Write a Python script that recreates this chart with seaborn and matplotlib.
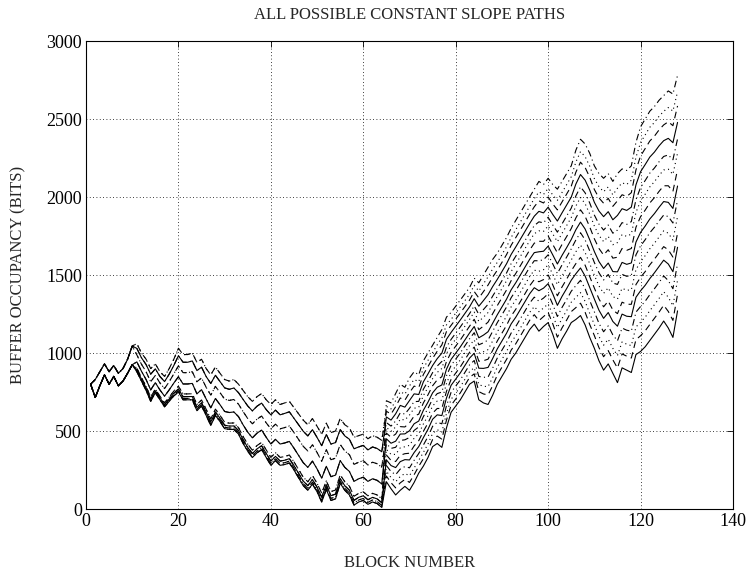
import matplotlib
matplotlib.use("Agg")
import matplotlib.pyplot as plt
import numpy as np
import pandas as pd
import seaborn as sns

# ---------------- data ----------------
blocks = list(range(1, 129))

# lowest buffer path (bits)
bottom_path = [
    800, 715, 790, 860, 800, 850, 790, 820, 870, 925,
    880, 820, 760, 690, 745, 700, 655, 690, 725, 750,
    700, 700, 700, 630, 660, 600, 535, 600, 560, 515,
    510, 510, 480, 420, 370, 330, 360, 380, 330, 280,
    310, 280, 285, 295, 250, 200, 150, 120, 160, 110,
    45, 125, 55, 65, 165, 120, 90, 25, 45, 55,
    30, 45, 35, 10,
    175, 130, 90, 120, 145, 120,
    170, 230, 275, 330, 400, 420, 395, 520, 620, 660,
    700, 750, 800, 820, 700, 680, 670, 730, 800, 850,
    900, 960, 1000, 1050, 1100, 1150, 1185, 1140, 1170, 1195,
    1120, 1030, 1090, 1140, 1195, 1215, 1240, 1180, 1100, 1030,
    950, 890, 930, 870, 810, 905, 890, 875, 990, 1010,
    1040, 1080, 1120, 1160, 1205, 1160, 1100, 1270,
]

# highest buffer path (bits)
top_path = [
    800, 830, 880, 930, 880, 920, 870, 900, 960, 1045,
    1060, 1000, 960, 900, 930, 880, 850, 900, 960, 1030,
    990, 990, 1000, 940, 960, 900, 860, 910, 870, 830,
    820, 830, 800, 760, 720, 690, 720, 740, 700, 670,
    700, 670, 680, 690, 650, 610, 570, 540, 580, 530,
    480, 550, 490, 500, 580, 540, 520, 460, 470, 480,
    450, 470, 460, 440,
    694, 680, 740, 800, 780, 840,
    880, 860, 950, 1000, 1050, 1100, 1150, 1230, 1260, 1300,
    1340, 1380, 1420, 1480, 1450, 1500, 1550, 1600, 1640, 1690,
    1740, 1800, 1850, 1900, 1950, 2000, 2050, 2100, 2080, 2120,
    2080, 2050, 2100, 2150, 2200, 2300, 2370, 2340, 2280, 2200,
    2150, 2120, 2150, 2100, 2150, 2180, 2170, 2200, 2350, 2450,
    2500, 2550, 2580, 2620, 2650, 2680, 2660, 2780,
]

# segment ends (block numbers)
segment_ends = [10, 64, 128]

# relative position of each of the 16 paths between bottom and top path, per segment
pos_seg1 = [0, 0, 0, 0, 0, 0, 0, 0, 0, 1, 1, 1, 1, 1, 1, 0]
pos_seg2 = [0, 0.03, 0.03, 0.07, 0.07, 0.13, 0.13, 0.35, 0.35,
            0.6, 0.6, 0.83, 0.83, 1.0, 1.0, 0]
pos_seg3 = [0, 0.07, 0.13, 0.2, 0.27, 0.33, 0.4, 0.47,
            0.53, 0.6, 0.67, 0.73, 0.8, 0.87, 0.93, 1.0]

# ---------------- build table ----------------
b = np.array(bottom_path, float)
t = np.array(top_path, float)
n = np.array(blocks)
rows = []
for k in range(16):
    w = np.where(n <= segment_ends[0], pos_seg1[k],
                 np.where(n <= segment_ends[1], pos_seg2[k], pos_seg3[k]))
    vals = b + w * (t - b)
    rows.append(pd.DataFrame({"block": n, "bits": vals, "path": f"p{k:02d}"}))
df = pd.concat(rows, ignore_index=True)

cycle = ["", (6, 4), (1, 3), (6, 3, 1, 3)]
dashes = {f"p{k:02d}": cycle[k % 4] for k in range(16)}

# ---------------- plot ----------------
sns.set_theme(style="white")
plt.rcParams["font.family"] = ["Liberation Serif", "DejaVu Serif"]

W, H = 748, 571
fig = plt.figure(figsize=(W / 100, H / 100), dpi=100)
left, right, top, bottom = 86, 733, 41, 509
ax = fig.add_axes([left / W, 1 - bottom / H, (right - left) / W, (bottom - top) / H])

sns.lineplot(data=df, x="block", y="bits", style="path", dashes=dashes,
             color="black", linewidth=0.8, estimator=None, sort=False,
             legend=False, ax=ax)

ax.set_xlim(0, 140)
ax.set_ylim(0, 3000)
ax.set_xticks(range(0, 141, 20))
ax.set_yticks(range(0, 3001, 500))
ax.grid(True, linestyle=(0, (1, 3)), color="black", linewidth=0.6)
for s in ax.spines.values():
    s.set_visible(True)
    s.set_color("black")
    s.set_linewidth(0.8)
ax.tick_params(direction="in", length=4, width=0.6, top=True, right=True,
               labelsize=13, colors="black", pad=3)

ax_h = bottom - top
ax_w = right - left
ax.set_title("ALL POSSIBLE CONSTANT SLOPE PATHS", fontsize=12, va="center",
             y=1 + (top - 15) / ax_h, pad=0)
ax.set_xlabel("BLOCK NUMBER", fontsize=12, va="center")
ax.xaxis.set_label_coords(0.5, -(563 - bottom) / ax_h)
ax.set_ylabel("BUFFER OCCUPANCY (BITS)", fontsize=12, va="center")
ax.yaxis.set_label_coords(-(left - 18) / ax_w, 0.5)

fig.savefig("out.png", dpi=100, facecolor="white")
